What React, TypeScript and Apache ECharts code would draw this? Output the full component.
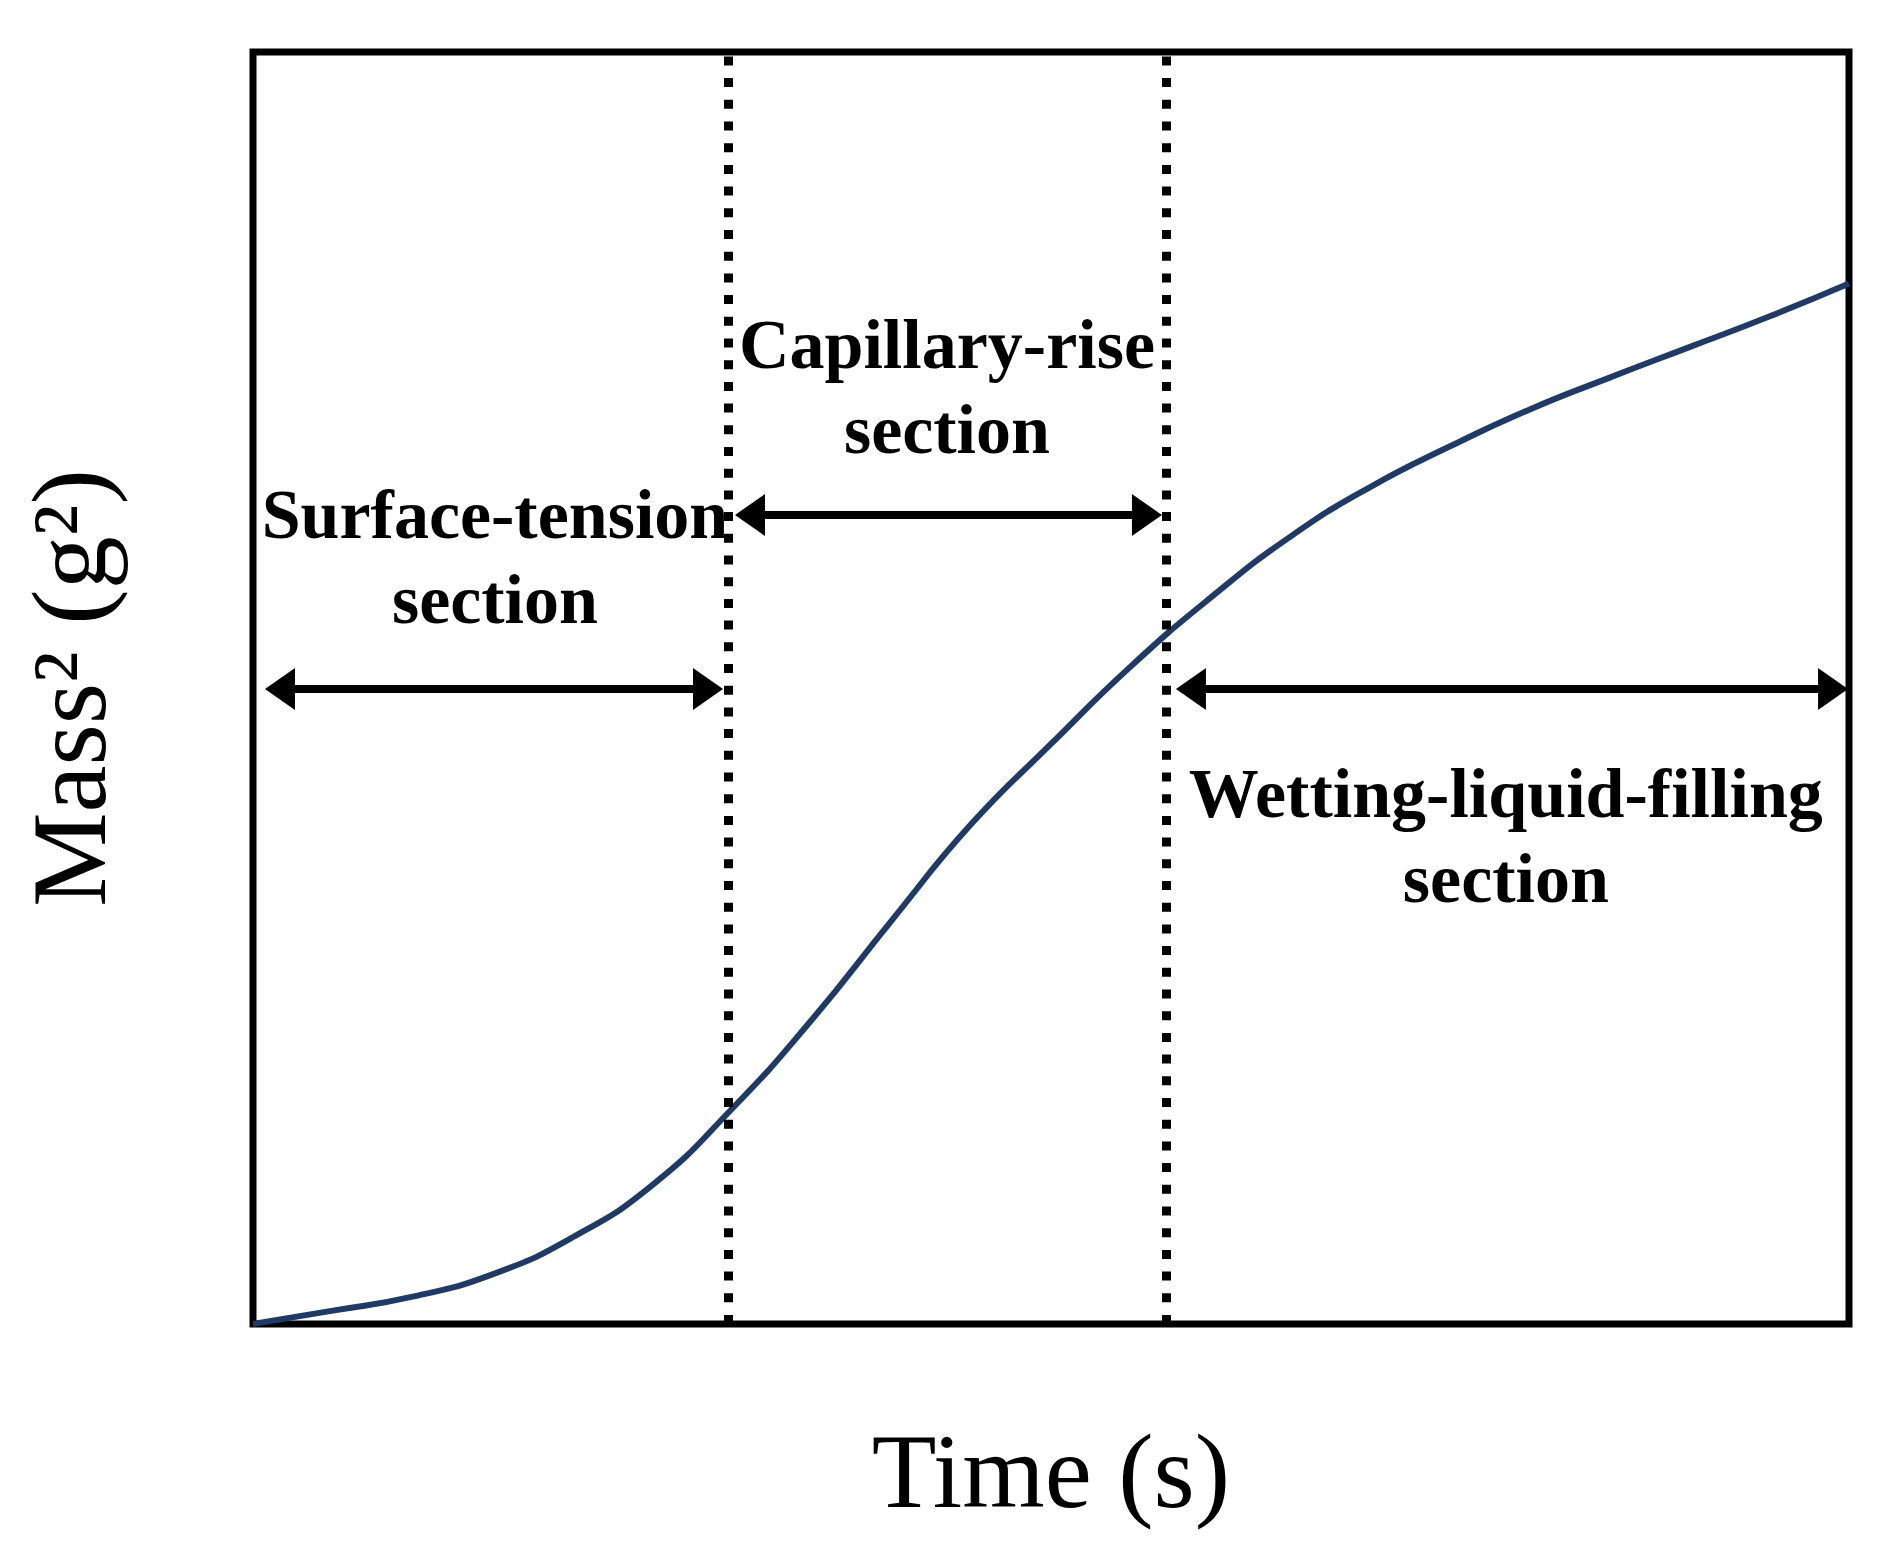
import React, { useEffect, useRef } from "react";
import * as echarts from "echarts";

// Curve: Mass^2 vs Time (arbitrary units, 0-100 on both axes)
const timeVals = [0, 5, 10, 15, 20, 25, 30, 35, 40, 45, 50, 55, 60, 65, 70, 75, 80, 85, 90, 95, 100];
const massVals = [0, 1.05, 2.15, 3.9, 6.8, 10.9, 16.9, 23.9, 31.7, 39.3, 45.6, 51.7, 57.1, 61.9, 65.8, 69.0, 71.9, 74.4, 76.8, 79.2, 81.8];

// Section boundaries (dotted lines)
const boundaryX = [29.76, 57.2];

// Section labels
const sectionNames = ["Surface-tension\nsection", "Capillary-rise\nsection", "Wetting-liquid-filling\nsection"];
const sectionLabelX = [15.16, 43.48, 78.5];
const sectionLabelY = [60.3, 73.7, 38.37];

// Double-headed arrows (tip to tip)
const arrowStartX = [0.75, 30.2, 57.83];
const arrowEndX = [29.45, 56.95, 99.94];
const arrowY = [49.92, 63.6, 49.92];

const xAxisTitle = "Time (s)";
const yAxisTitle = "Mass\u00B2 (g\u00B2)";

const SERIF = "'Liberation Serif', 'Times New Roman', Times, serif";

const GRID = { left: 253, top: 52, right: 35, bottom: 233 };
const WIDTH = 1884;
const HEAD_W = 42;
const HEAD_L = 30;

export default function App() {
  const ref = useRef<HTMLDivElement>(null);

  useEffect(() => {
    document.body.style.margin = "0";
    if (!ref.current) return;
    const chart = echarts.init(ref.current, undefined, { renderer: "svg" });

    const pxPerUnit = (WIDTH - GRID.left - GRID.right) / 100;
    const inset = HEAD_L / 2 / pxPerUnit;

    const curve = timeVals.map((t, i) => [t, massVals[i]]);
    const labelData = sectionNames.map((n, i) => ({ name: n, value: [sectionLabelX[i], sectionLabelY[i]] }));
    const arrowData = arrowStartX.map((x0, i) => [
      { coord: [x0 + inset, arrowY[i]] },
      { coord: [arrowEndX[i] - inset, arrowY[i]] },
    ]);

    chart.setOption({
      animation: false,
      grid: {
        ...GRID,
        show: true,
        borderWidth: 7,
        borderColor: "#000",
        backgroundColor: "transparent",
      },
      xAxis: {
        type: "value",
        min: 0,
        max: 100,
        axisLine: { show: false },
        axisTick: { show: false },
        axisLabel: { show: false },
        splitLine: { show: false },
        name: xAxisTitle,
        nameLocation: "middle",
        nameGap: 94,
        nameTextStyle: { fontFamily: SERIF, fontSize: 106, color: "#000", lineHeight: 106 },
      },
      yAxis: {
        type: "value",
        min: 0,
        max: 100,
        axisLine: { show: false },
        axisTick: { show: false },
        axisLabel: { show: false },
        splitLine: { show: false },
        name: yAxisTitle,
        nameLocation: "middle",
        nameRotate: 90,
        nameGap: 131,
        nameTextStyle: { fontFamily: SERIF, fontSize: 106, color: "#000", lineHeight: 106 },
      },
      series: [
        {
          type: "line",
          data: curve,
          smooth: 0.5,
          showSymbol: false,
          symbol: "none",
          lineStyle: { color: "#1f3a64", width: 6 },
          silent: true,
          z: 3,
        },
        {
          type: "line",
          data: [],
          silent: true,
          markLine: {
            silent: true,
            symbol: ["none", "none"],
            label: { show: false },
            lineStyle: { color: "#000", width: 9, type: [9, 12.7], cap: "butt" },
            emphasis: { disabled: true },
            data: boundaryX.map((x) => ({ xAxis: x })),
          },
          z: 2,
        },
        {
          type: "line",
          data: [],
          silent: true,
          markLine: {
            silent: true,
            symbol: ["triangle", "triangle"],
            symbolSize: [HEAD_W, HEAD_L],
            label: { show: false },
            lineStyle: { color: "#000", width: 8, type: "solid" },
            itemStyle: { color: "#000" },
            emphasis: { disabled: true },
            data: arrowData,
          },
          z: 4,
        },
        {
          type: "scatter",
          data: labelData,
          symbolSize: 0,
          silent: true,
          itemStyle: { opacity: 1, color: "#000" },
          z: 5,
          label: {
            show: true,
            position: "inside",
            formatter: (p: any) => p.name,
            fontFamily: SERIF,
            fontWeight: "bold",
            fontSize: 70,
            lineHeight: 85,
            color: "#000",
            opacity: 1,
            textBorderWidth: 0,
            align: "center",
            verticalAlign: "middle",
          },
        },
      ],
    });

    return () => {
      chart.dispose();
    };
  }, []);

  return <div ref={ref} style={{ width: WIDTH, height: 1557 }} />;
}
